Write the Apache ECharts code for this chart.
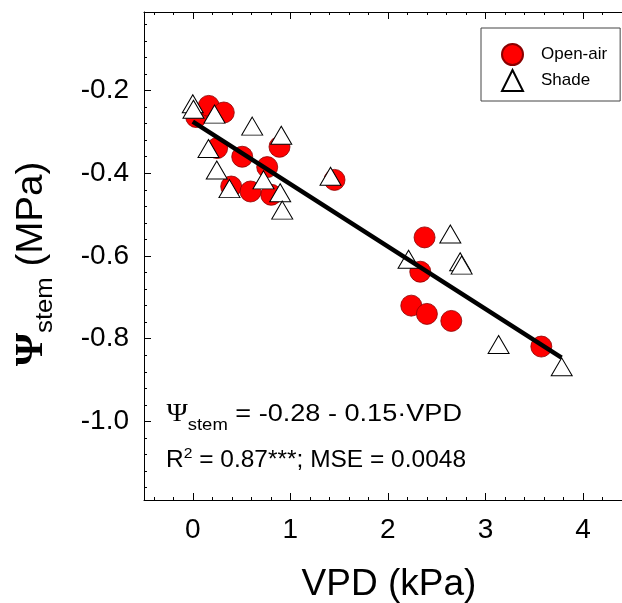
<!DOCTYPE html>
<html>
<head>
<meta charset="utf-8">
<script src="https://cdn.jsdelivr.net/npm/echarts@6/dist/echarts.min.js"></script>
<style>
html,body{margin:0;padding:0;background:#fff;}
#chart{width:622px;height:603px;}
</style>
</head>
<body>
<div id="chart"></div>
<script>
// ---- data ----
const openAirX = [0.035, 0.164, 0.318, 0.25, 0.507, 0.763, 0.394, 0.592, 0.804, 0.889, 1.453, 2.376, 2.332, 2.24, 2.40, 2.65, 3.573];
const openAirY = [-0.264, -0.237, -0.253, -0.339, -0.36, -0.385, -0.432, -0.444, -0.452, -0.336, -0.416, -0.555, -0.638, -0.72, -0.74, -0.757, -0.819];
const shadeX = [0.0, 0.007, 0.223, 0.609, 0.907, 0.161, 0.246, 0.725, 0.376, 0.896, 0.917, 1.412, 2.64, 2.212, 2.741, 2.756, 3.135, 3.782];
const shadeY = [-0.232, -0.245, -0.257, -0.286, -0.308, -0.34, -0.392, -0.416, -0.437, -0.447, -0.489, -0.407, -0.547, -0.608, -0.614, -0.622, -0.814, -0.868];
const fitIntercept = -0.275;
const fitSlope = -0.151;
const fitRangeX = [0, 3.78];

const xMajorTicks = [0, 1, 2, 3, 4];
const xMinorTicks = [-0.4, -0.2, 0.2, 0.4, 0.6, 0.8, 1.2, 1.4, 1.6, 1.8, 2.2, 2.4, 2.6, 2.8, 3.2, 3.4, 3.6, 3.8, 4.2, 4.4];
const yMajorTicks = [-1.0, -0.8, -0.6, -0.4, -0.2];
const yMinorTicks = [-1.16, -1.12, -1.08, -1.04, -0.96, -0.92, -0.88, -0.84, -0.76, -0.72, -0.68, -0.64, -0.56, -0.52, -0.48, -0.44, -0.36, -0.32, -0.28, -0.24, -0.16, -0.12, -0.08, -0.04];
const xRange = [-0.5, 4.4];
const yRange = [-1.19, -0.01];

// ---- text layout helpers ----
const SANS = '"Liberation Sans", Arial, sans-serif';
const SERIF = '"Liberation Serif", "Times New Roman", serif';
const mctx = document.createElement('canvas').getContext('2d');
function meas(font, text) {
  mctx.font = font;
  mctx.textBaseline = 'alphabetic';
  const m = mctx.measureText(text);
  const A = m.fontBoundingBoxAscent, D = m.fontBoundingBoxDescent;
  return { w: m.width, mid: (A !== undefined && D !== undefined) ? (A - D) / 2 : 0.35 * parseFloat(font.match(/(\d+)px/)[1]) };
}
function txt(t, font, x, baseY) {
  const m = meas(font, t);
  return {
    type: 'text', x: x, y: baseY - m.mid, silent: true,
    style: { text: t, font: font, fill: '#000', align: 'left', verticalAlign: 'middle', textAlign: 'left', textVerticalAlign: 'middle' }
  };
}
function layoutSegs(list, x0, baseY, anchor) {
  const ms = list.map(s => meas(s.font, s.t));
  const total = ms.reduce((a, m) => a + m.w, 0);
  let x = anchor === 'center' ? x0 - total / 2 : x0;
  const out = [];
  list.forEach((s, i) => {
    out.push(txt(s.t, s.font, x, baseY + (s.dy || 0)));
    x += ms[i].w;
  });
  return { children: out, width: total };
}
// a line of mixed text, stretched horizontally to span [x0, x1]
function fittedLine(list, x0, x1, baseY) {
  const l = layoutSegs(list, 0, 0, 'left');
  return { type: 'group', x: x0, y: baseY, scaleX: (x1 - x0) / l.width, scaleY: 1, children: l.children };
}

const F1 = '23.5px ' + SANS;
const eqLine1 = fittedLine([
  { t: 'Ψ', font: '25px ' + SERIF },
  { t: 'stem', font: '16px ' + SANS, dy: 8 },
  { t: ' = -0.28 - 0.15·VPD', font: F1 }
], 166.5, 462, 423);
const eqLine2 = fittedLine([
  { t: 'R', font: F1 },
  { t: '2', font: '15px ' + SANS, dy: -10 },
  { t: ' = 0.87***; MSE = 0.0048', font: F1 }
], 166, 466, 469);
const xTitle = layoutSegs([{ t: 'VPD (kPa)', font: '37px ' + SANS }], 389, 597, 'center').children;
const yTitleChildren = layoutSegs([
  { t: 'Ψ', font: 'bold 40px ' + SERIF },
  { t: 'stem', font: '24px ' + SANS, dy: 9 },
  { t: ' (MPa)', font: '36px ' + SANS }
], 0, 0, 'center').children;

const openData = openAirX.map((x, i) => [x, openAirY[i]]);
const shadeData = shadeX.map((x, i) => [x, shadeY[i]]);
const fitData = fitRangeX.map(x => [x, fitIntercept + fitSlope * x]);

function xAxisDef(pos, ticks, len, showLine, showLabel) {
  return {
    type: 'value', position: pos, min: xRange[0], max: xRange[1],
    axisLine: { show: showLine, onZero: false, lineStyle: { color: '#000', width: 1 } },
    axisTick: { show: true, inside: true, length: len, customValues: ticks, lineStyle: { color: '#000', width: 1 } },
    axisLabel: showLabel ? { show: true, customValues: ticks, fontSize: 28, fontFamily: SANS, color: '#000', margin: 16, formatter: v => String(Math.round(v)) } : { show: false },
    splitLine: { show: false }, minorTick: { show: false }
  };
}
function yAxisDef(ticks, len, showLine, showLabel) {
  return {
    type: 'value', position: 'left', min: yRange[0], max: yRange[1],
    axisLine: { show: showLine, onZero: false, lineStyle: { color: '#000', width: 1 } },
    axisTick: { show: true, inside: true, length: len, customValues: ticks, lineStyle: { color: '#000', width: 1 } },
    axisLabel: showLabel ? { show: true, customValues: ticks, fontSize: 28, fontFamily: SANS, color: '#000', margin: 15, formatter: v => v.toFixed(1) } : { show: false },
    splitLine: { show: false }, minorTick: { show: false }
  };
}

const chart = echarts.init(document.getElementById('chart'), null, { renderer: 'canvas' });
chart.setOption({
  animation: false,
  backgroundColor: '#fff',
  grid: { left: 144, right: 0, top: 12, bottom: 103, containLabel: false },
  xAxis: [
    xAxisDef('bottom', xMajorTicks, 7, true, true),
    xAxisDef('bottom', xMinorTicks, 3, false, false),
    xAxisDef('top', xMajorTicks, 7, true, false),
    xAxisDef('top', xMinorTicks, 3, false, false)
  ],
  yAxis: [
    yAxisDef(yMajorTicks, 7, true, true),
    yAxisDef(yMinorTicks, 3, false, false)
  ],
  legend: {
    orient: 'vertical', left: 481, top: 28,
    padding: [15, 13, 9, 20], itemWidth: 21, itemHeight: 21, itemGap: 3,
    borderColor: '#444', borderWidth: 1, backgroundColor: '#fff',
    textStyle: { fontSize: 17, fontFamily: SANS, color: '#000', padding: [0, 0, 0, 13] },
    data: ['Open-air', 'Shade'],
    selectedMode: false
  },
  series: [
    {
      name: 'Open-air', type: 'scatter', xAxisIndex: 0, yAxisIndex: 0,
      symbol: 'circle', symbolSize: 21, z: 2,
      itemStyle: { color: '#ff0000', borderColor: '#8a0000', borderWidth: 0.8, opacity: 1 },
      data: openData
    },
    {
      name: 'Shade', type: 'scatter', xAxisIndex: 0, yAxisIndex: 0,
      symbol: 'triangle', symbolSize: [21, 18], z: 3,
      itemStyle: { color: '#ffffff', borderColor: '#000', borderWidth: 1, opacity: 1 },
      data: shadeData
    },
    {
      name: 'fit', type: 'line', xAxisIndex: 0, yAxisIndex: 0, z: 4,
      symbol: 'none', silent: true,
      lineStyle: { color: '#000', width: 4.5 },
      data: fitData
    }
  ],
  graphic: [
    eqLine1, eqLine2, ...xTitle,
    { type: 'group', x: 45, y: 264, rotation: Math.PI / 2, scaleX: 1.07, scaleY: 1, children: yTitleChildren }
  ]
});
</script>
</body>
</html>
